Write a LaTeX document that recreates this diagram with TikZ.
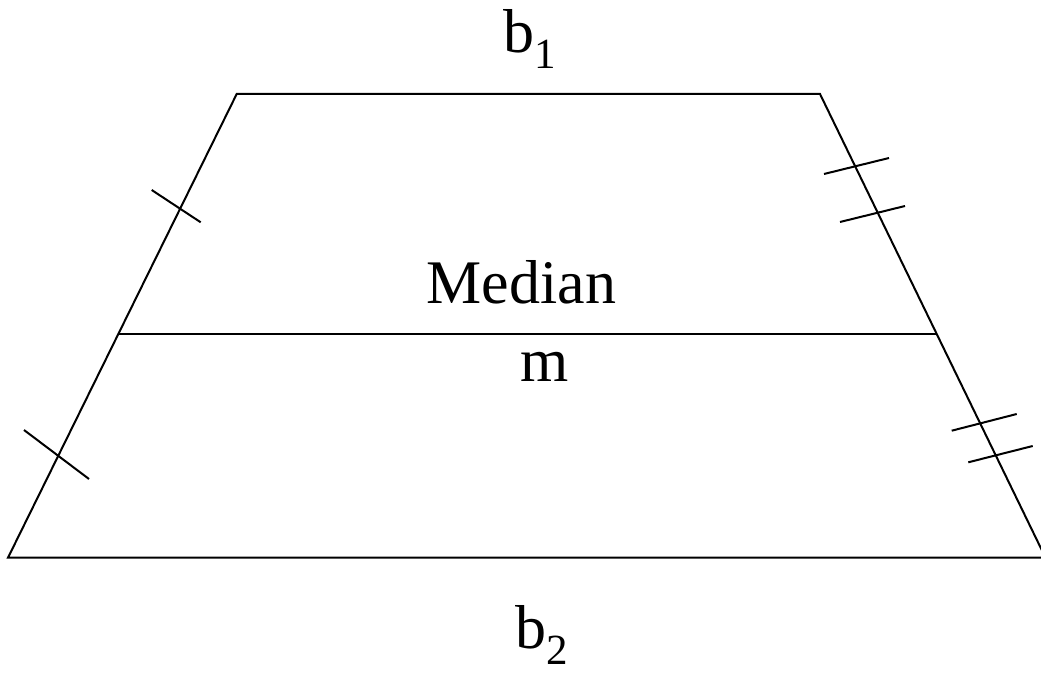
\documentclass[tikz,border=0pt]{standalone}
\usepackage{fontspec}
\setmainfont{Liberation Serif}
\newcommand{\lowsub}[1]{\raisebox{-16pt}{\fontsize{43}{43}\selectfont #1}}

\begin{document}
\begin{tikzpicture}[x=1pt, y=-1pt, line width=2pt, every node/.style={font=\fontsize{62}{74}\selectfont, inner sep=0pt}]
    \useasboundingbox (0,0) rectangle (1041,679);

    % corners
    \coordinate (tl) at (236.7,94);
    \coordinate (tr) at (820,94);
    \coordinate (bl) at (8,557.7);
    \coordinate (br) at (1045.5,557.7);
    % median ends
    \coordinate (ml) at (118.5,334);
    \coordinate (mr) at (936.7,334);

    % trapezoid and median
    \draw (tl) -- (tr) -- (br) -- (bl) -- cycle;
    \draw (ml) -- (mr);

    % single ticks (left leg)
    \draw (151.7,190) -- (200.7,222.3);
    \draw (24,430) -- (89,479);

    % double ticks (right leg)
    \draw (824,174) -- (889,158);
    \draw (840,222) -- (905,206);
    \draw (951.7,430.7) -- (1016.7,414);
    \draw (968.3,462.3) -- (1032.7,446);

    % labels
    \node[anchor=base] (b1) at (530,53) {b\lowsub{1}};
    \node[anchor=base] (median) at (521.5,303) {Median};
    \node[anchor=base] (m) at (544.5,381.7) {m};
    \node[anchor=base] (b2) at (542,648) {b\lowsub{2}};
\end{tikzpicture}
\end{document}
